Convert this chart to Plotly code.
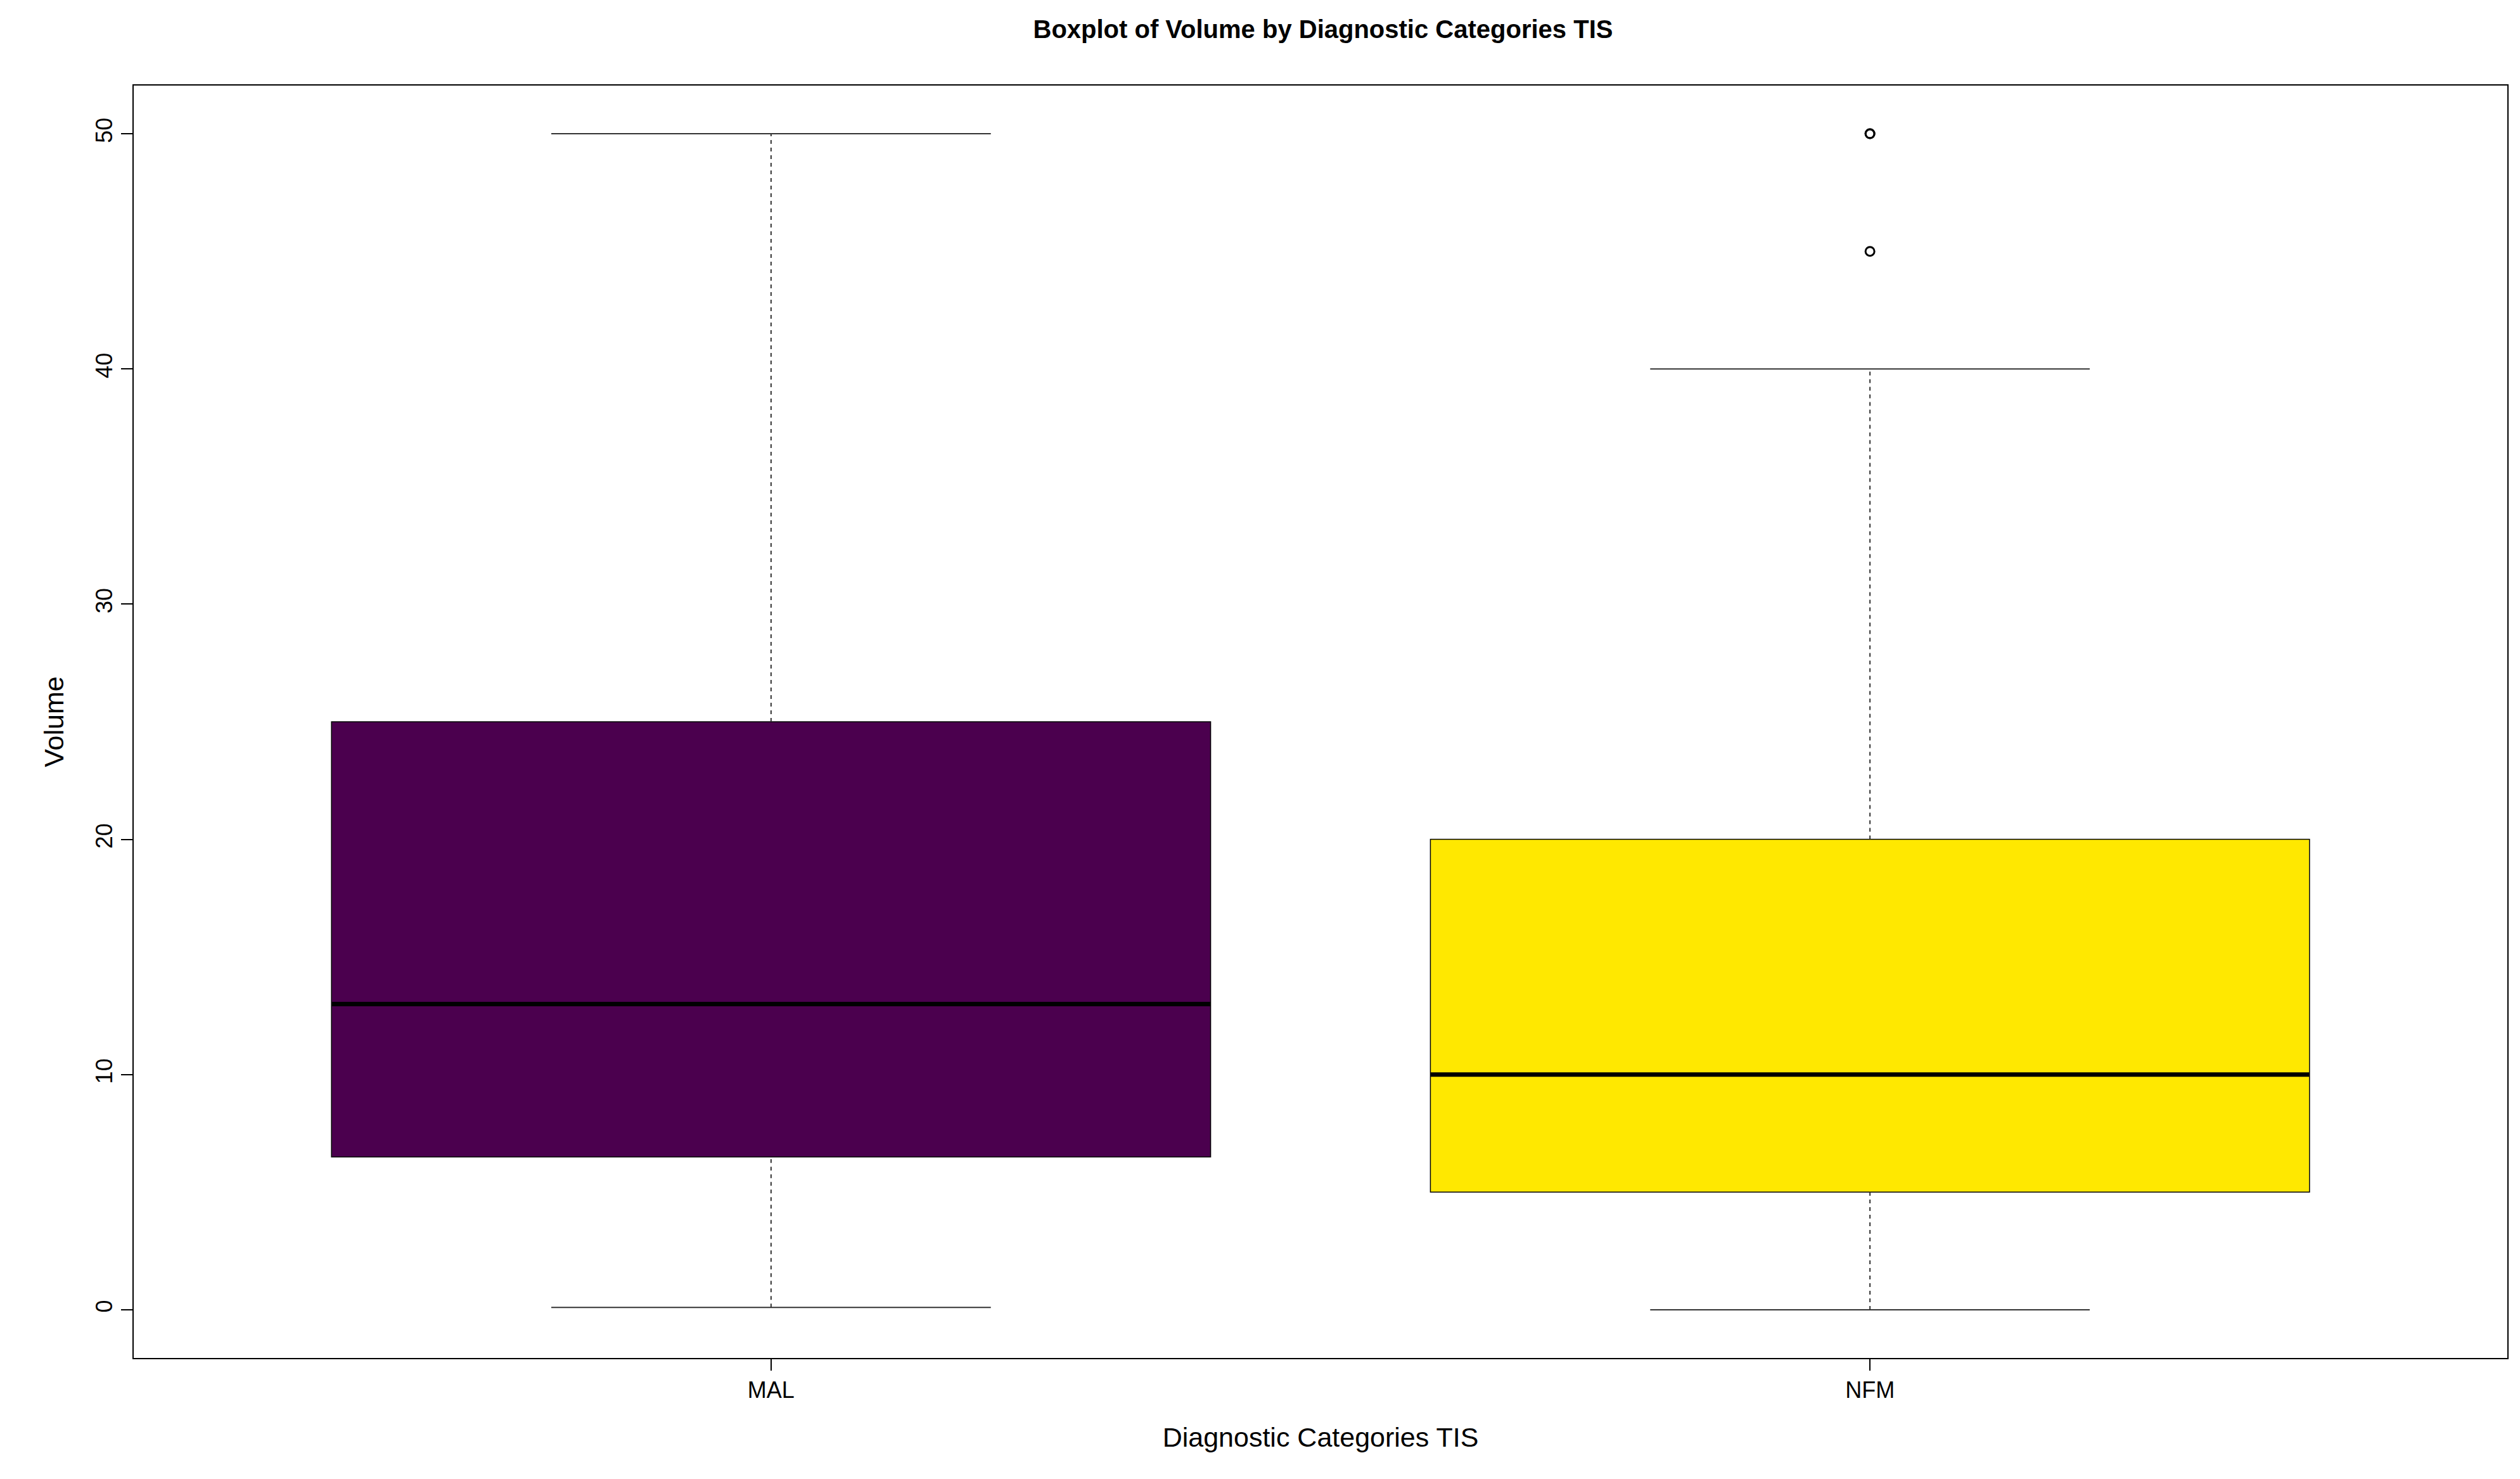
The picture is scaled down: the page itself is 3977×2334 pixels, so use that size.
import plotly.graph_objects as go

categories = ["MAL", "NFM"]
q1 = [6.5, 5.0]
median = [13.0, 10.0]
q3 = [25.0, 20.0]
whisker_low = [0.1, 0.0]
whisker_high = [50.0, 40.0]
colors = ["#4B004E", "#FFE800"]
outlier_cat = [2, 2, 2]
outlier_val = [45.0, 50.0, 50.0]

pos = [1, 2]
bw = 0.8
cw = 0.4
fig = go.Figure()
for i, c in enumerate(categories):
    fig.add_trace(go.Box(x=[pos[i]], q1=[q1[i]], median=[median[i]], q3=[q3[i]],
                         lowerfence=[q1[i]], upperfence=[q3[i]], width=bw,
                         fillcolor=colors[i], line=dict(color="black", width=1.5),
                         boxpoints=False, showlegend=False, hoverinfo="skip"))
    # dashed whiskers
    fig.add_trace(go.Scatter(x=[pos[i], pos[i], None, pos[i], pos[i]],
                             y=[whisker_low[i], q1[i], None, q3[i], whisker_high[i]],
                             mode="lines", line=dict(color="#333", width=2, dash="6px,6px"),
                             showlegend=False, hoverinfo="skip"))
    # caps
    fig.add_trace(go.Scatter(x=[pos[i]-cw/2, pos[i]+cw/2, None, pos[i]-cw/2, pos[i]+cw/2],
                             y=[whisker_low[i], whisker_low[i], None, whisker_high[i], whisker_high[i]],
                             mode="lines", line=dict(color="#333", width=2),
                             showlegend=False, hoverinfo="skip"))
    # median
    fig.add_trace(go.Scatter(x=[pos[i]-bw/2, pos[i]+bw/2], y=[median[i], median[i]],
                             mode="lines", line=dict(color="black", width=7),
                             showlegend=False, hoverinfo="skip"))

fig.add_trace(go.Scatter(x=outlier_cat, y=outlier_val, mode="markers",
                         marker=dict(symbol="circle-open", size=14, color="black", line=dict(width=3)),
                         showlegend=False))

font = "Liberation Sans, Arial, sans-serif"
fig.update_layout(
    width=3977, height=2334, paper_bgcolor="white", plot_bgcolor="white",
    margin=dict(l=203, r=28, t=127, b=199),
    font=dict(family=font, size=36, color="black"),
    title=dict(text="<b>Boxplot of Volume by Diagnostic Categories TIS</b>", x=0.523, xanchor="center",
               y=1 - 38/2334, yanchor="middle", font=dict(size=40)),
    xaxis=dict(range=[0.42, 2.58], tickvals=pos, ticktext=categories, showgrid=False, zeroline=False,
               showline=True, mirror=True, linecolor="black", linewidth=2,
               ticks="outside", ticklen=18, tickwidth=2, tickcolor="black",
               title=dict(text="Diagnostic Categories TIS", standoff=40)),
    yaxis=dict(range=[-2.05, 52.05], tickvals=[0, 10, 20, 30, 40, 50], tickangle=-90,
               showgrid=False, zeroline=False, showline=True, mirror=True, linecolor="black", linewidth=2,
               ticks="outside", ticklen=18, tickwidth=2, tickcolor="black",
               title=dict(text="Volume", standoff=30)),
)
fig.write_html("out.html")
